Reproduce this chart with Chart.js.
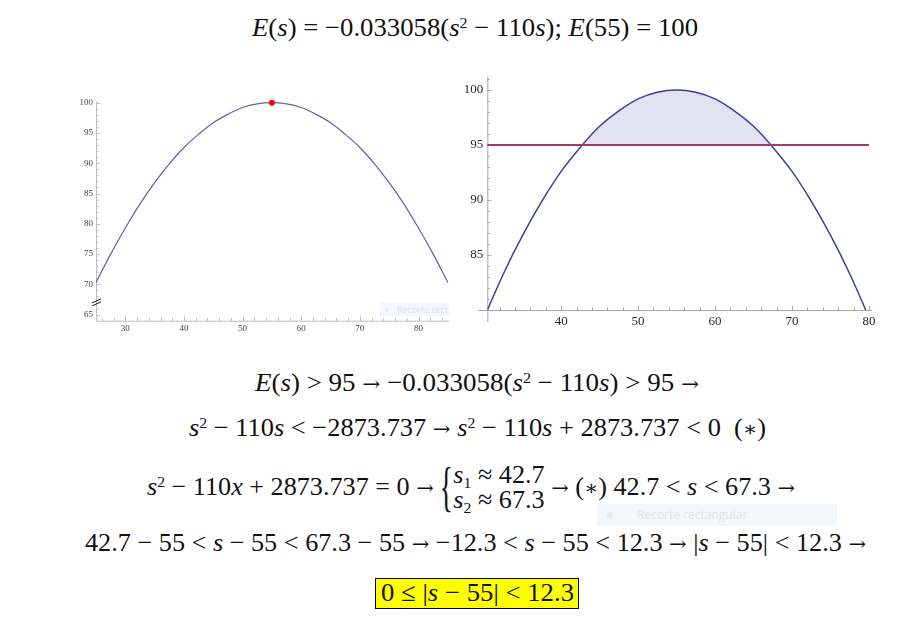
<!DOCTYPE html>
<html>
<head>
<meta charset="utf-8">
<script src="https://cdn.jsdelivr.net/npm/chart.js@4.4.1/dist/chart.umd.min.js"></script>
<style>
  html, body { margin: 0; padding: 0; background: #fff; }
  body { width: 915px; height: 617px; position: relative; overflow: hidden;
    font-family: "Liberation Serif", "DejaVu Serif", serif; color: #111; }
  .eq { position: absolute; white-space: nowrap; font-size: 26px; line-height: 30px;
    height: 30px; transform-origin: 0 50%; }
  .eq i { font-style: italic; }
  .eq sup { font-size: 0.6em; position: relative; top: -0.5em; vertical-align: baseline; line-height: 0; }
  .eq sub { font-size: 0.6em; position: relative; top: 0.3em; vertical-align: baseline; line-height: 0; }
  .sym { font-family: "DejaVu Serif", serif; font-size: 0.8em; }
  .arr { font-family: "DejaVu Serif", serif; font-size: 0.8em; }
  #line4 { height: 60px; display: flex; align-items: center; }
  #line4 .brace { display: inline-block; font-size: 54px; line-height: 54px; width: 13px;
    transform: scaleX(0.5); transform-origin: 0 50%; font-weight: normal; }
  #line4 .stack { display: inline-block; line-height: 25px; }
  #answer { position: absolute; left: 375px; top: 578px; width: 202px; height: 29px;
    background: #ffff00; border: 1px solid #000; }
  #answer .eq { position: absolute; left: 5px; top: -1px; }
  .snip { position: absolute; background: #f2f7fd; color: #dfe4ea; overflow: hidden;
    font-family: "Open Sans", "DejaVu Sans", sans-serif; white-space: nowrap; }
  .snip b { display: inline-block; border-radius: 50%; background: #e3e8ef; }
  #left-box { position: absolute; left: 60px; top: 85px; width: 400px; height: 255px; }
  #right-box { position: absolute; left: 455px; top: 65px; width: 440px; height: 280px; }
</style>
</head>
<body>

<div class="eq" data-w="446" style="left:252px; top:13px;"><i>E</i>(<i>s</i>) = −0.033058(<i>s</i><sup>2</sup> − 110<i>s</i>); <i>E</i>(55) = 100</div>

<div id="left-box"><canvas id="left-chart" width="400" height="255"></canvas></div>
<div id="right-box"><canvas id="right-chart" width="440" height="280"></canvas></div>

<div class="snip" style="left:380px; top:303px; width:69px; height:13px; font-size:9px; line-height:13px;">
  <b style="width:4px; height:4px; margin:0 8px 1px 5px;"></b>Recorte rectangular</div>

<div class="eq" data-w="444" style="left:255px; top:368px;"><i>E</i>(<i>s</i>) &gt; 95 <span class="arr">→</span> −0.033058(<i>s</i><sup>2</sup> − 110<i>s</i>) &gt; 95 <span class="arr">→</span></div>

<div class="eq" data-w="577" style="left:189px; top:413px;"><i>s</i><sup>2</sup> − 110<i>s</i> &lt; −2873.737 <span class="arr">→</span> <i>s</i><sup>2</sup> − 110<i>s</i> + 2873.737 &lt; 0 &nbsp;(<span class="sym">∗</span>)</div>

<div class="eq" id="line4" data-w="648" style="left:147px; top:457px;">
  <span><i>s</i><sup>2</sup> − 110<i>x</i> + 2873.737 = 0 <span class="arr">→</span>&nbsp;</span><span class="brace">{</span><span class="stack"><span><i>s</i><sub>1</sub> ≈ 42.7</span><br><span><i>s</i><sub>2</sub> ≈ 67.3</span></span><span>&nbsp;<span class="arr">→</span> (<span class="sym">∗</span>) 42.7 &lt; <i>s</i> &lt; 67.3 <span class="arr">→</span></span>
</div>

<div class="snip" style="left:597px; top:504px; width:240px; height:22px; font-size:12px; line-height:22px;">
  <b style="width:6px; height:6px; margin:0 24px 1px 10px;"></b>Recorte rectangular</div>

<div class="eq" data-w="781" style="left:85px; top:528px;">42.7 − 55 &lt; <i>s</i> − 55 &lt; 67.3 − 55 <span class="arr">→</span> −12.3 &lt; <i>s</i> − 55 &lt; 12.3 <span class="arr">→</span> |<i>s</i> − 55| &lt; 12.3 <span class="arr">→</span></div>

<div id="answer"><div class="eq" data-w="193">0 ≤ |<i>s</i> − 55| &lt; 12.3</div></div>

<script>
  /*global document, Chart*/
  "use strict";

  // E(s), every 2.5 units of s
  var sValues = [25, 27.5, 30, 32.5, 35, 37.5, 40, 42.5, 45, 47.5, 50, 52.5, 55,
    57.5, 60, 62.5, 65, 67.5, 70, 72.5, 75, 77.5, 80, 82.5, 85];
  var eValues = [70.3, 75.0, 79.3, 83.3, 86.8, 89.9, 92.6, 94.8, 96.7, 98.1, 99.2, 99.8, 100.0,
    99.8, 99.2, 98.1, 96.7, 94.8, 92.6, 89.9, 86.8, 83.3, 79.3, 75.0, 70.3];

  // vertex marked in red on the left plot
  var vertexS = [55];
  var vertexE = [100];

  // threshold line on the right plot
  var thresholdS = [30, 80];
  var thresholdE = [95, 95];

  // left plot ticks
  var leftXTicks = [30, 40, 50, 60, 70, 80];
  var leftXMinor = [26, 28, 30, 32, 34, 36, 38, 40, 42, 44, 46, 48, 50, 52, 54, 56, 58, 60,
    62, 64, 66, 68, 70, 72, 74, 76, 78, 80, 82, 84];
  var leftYTicks = [65, 70, 75, 80, 85, 90, 95, 100];
  var leftYMinor = [65, 66, 67, 68, 69, 70, 71, 72, 73, 74, 75, 76, 77, 78, 79, 80, 81, 82,
    83, 84, 85, 86, 87, 88, 89, 90, 91, 92, 93, 94, 95, 96, 97, 98, 99, 100];

  // right plot ticks
  var rightXTicks = [40, 50, 60, 70, 80];
  var rightXMinor = [32, 34, 36, 38, 40, 42, 44, 46, 48, 50, 52, 54, 56, 58, 60, 62, 64, 66,
    68, 70, 72, 74, 76, 78, 80];
  var rightYTicks = [85, 90, 95, 100];
  var rightYMinor = [81, 82, 83, 84, 85, 86, 87, 88, 89, 90, 91, 92, 93, 94, 95, 96, 97, 98,
    99, 100, 101];

  function toPoints(xs, ys) {
    return xs.map(function (x, i) {
      return {x: x, y: ys[i]};
    });
  }

  function fitLines() {
    var list = document.querySelectorAll(".eq[data-w]"), i, el, w;
    for (i = 0; i < list.length; i += 1) {
      el = list[i];
      w = el.getBoundingClientRect().width;
      el.style.transform = "scaleX(" + (parseFloat(el.getAttribute("data-w")) / w) + ")";
    }
  }

  // mathematica-like axes: lines crossing at a given origin, inner ticks
  function axesPlugin(cfg) {
    return {
      id: "mathAxes",
      beforeDatasetsDraw: function (chart) {
        var ctx = chart.ctx,
          xs = chart.scales.x,
          ys = chart.scales.y,
          ax = xs.getPixelForValue(cfg.yAxisAt),
          ay = ys.getPixelForValue(cfg.xAxisAt),
          i,
          p;
        ctx.save();
        ctx.strokeStyle = cfg.color;
        ctx.lineWidth = 1;
        ctx.beginPath();
        ctx.moveTo(xs.getPixelForValue(cfg.xFrom), ay + 0.5);
        ctx.lineTo(xs.getPixelForValue(cfg.xTo), ay + 0.5);
        ctx.moveTo(ax + 0.5, ys.getPixelForValue(cfg.yFrom));
        ctx.lineTo(ax + 0.5, ys.getPixelForValue(cfg.yTo));
        for (i = 0; i < cfg.xMinor.length; i += 1) {
          p = Math.round(xs.getPixelForValue(cfg.xMinor[i])) + 0.5;
          ctx.moveTo(p, ay);
          ctx.lineTo(p, ay - cfg.minor);
        }
        for (i = 0; i < cfg.xMajor.length; i += 1) {
          p = Math.round(xs.getPixelForValue(cfg.xMajor[i])) + 0.5;
          ctx.moveTo(p, ay);
          ctx.lineTo(p, ay - cfg.major);
        }
        for (i = 0; i < cfg.yMinor.length; i += 1) {
          p = Math.round(ys.getPixelForValue(cfg.yMinor[i])) + 0.5;
          ctx.moveTo(ax, p);
          ctx.lineTo(ax + cfg.minor, p);
        }
        for (i = 0; i < cfg.yMajor.length; i += 1) {
          p = Math.round(ys.getPixelForValue(cfg.yMajor[i])) + 0.5;
          ctx.moveTo(ax, p);
          ctx.lineTo(ax + cfg.major, p);
        }
        ctx.stroke();
        if (cfg.breakAt !== undefined) {
          p = ys.getPixelForValue(cfg.breakAt);
          ctx.strokeStyle = "#222";
          ctx.beginPath();
          ctx.moveTo(ax - 4, p + 1);
          ctx.lineTo(ax + 5, p - 3);
          ctx.moveTo(ax - 4, p + 4);
          ctx.lineTo(ax + 5, p);
          ctx.stroke();
        }
        ctx.restore();
      }
    };
  }

  // the scale box gets a fixed size so the plot area lands where the picture has it
  function tickAxis(min, max, values, size, color, padding, isY, boxSize) {
    return {
      type: "linear",
      position: isY ? "left" : "bottom",
      min: min,
      max: max,
      afterFit: function (scale) {
        if (isY) {
          scale.width = boxSize;
        } else {
          scale.height = boxSize;
        }
      },
      afterBuildTicks: function (scale) {
        scale.ticks = values.map(function (v) {
          return {value: v};
        });
      },
      grid: {display: false, drawTicks: false},
      border: {display: false},
      ticks: {
        autoSkip: false,
        maxRotation: 0,
        padding: padding,
        color: color,
        font: {family: "'Liberation Serif', serif", size: size},
        callback: function (v) {
          return String(v);
        }
      }
    };
  }

  new Chart(document.getElementById("left-chart"), {
    type: "line",
    data: {
      datasets: [
        {
          data: toPoints(vertexS, vertexE),
          showLine: false,
          pointRadius: 3,
          pointBackgroundColor: "#ff0000",
          pointBorderWidth: 0,
          clip: false,
          order: 0
        },
        {
          data: toPoints(sValues, eValues),
          borderColor: "#5f5fb2",
          borderWidth: 1.2,
          pointRadius: 0,
          tension: 0.4,
          fill: false,
          order: 1
        }
      ]
    },
    options: {
      responsive: false,
      animation: false,
      layout: {padding: {left: 0, right: 11, top: 16.5, bottom: 0}},
      plugins: {legend: {display: false}, tooltip: {enabled: false}},
      scales: {
        x: tickAxis(25, 85.2, leftXTicks, 9, "#444", 3, false, 19.3),
        y: tickAxis(64, 100.2, leftYTicks, 9, "#444", 3, true, 36)
      }
    },
    plugins: [axesPlugin({
      color: "#bdbdbd",
      xAxisAt: 64, yAxisAt: 25,
      xFrom: 25, xTo: 85.2, yFrom: 64, yTo: 100.2,
      xMajor: leftXTicks, xMinor: leftXMinor,
      yMajor: leftYTicks, yMinor: leftYMinor,
      major: 4, minor: 2.5,
      breakAt: 67.1
    })]
  });

  new Chart(document.getElementById("right-chart"), {
    type: "line",
    data: {
      datasets: [
        {
          data: toPoints(thresholdS, thresholdE),
          borderColor: "#a0386f",
          borderWidth: 2,
          pointRadius: 0,
          fill: false,
          order: 0
        },
        {
          data: toPoints(sValues, eValues),
          borderColor: "#3d3d9e",
          borderWidth: 1.5,
          pointRadius: 0,
          tension: 0.4,
          fill: {target: {value: 95}, above: "#e2e2f0", below: "rgba(0,0,0,0)"},
          order: 1
        }
      ]
    },
    options: {
      responsive: false,
      animation: false,
      layout: {padding: {left: 0, right: 23, top: 11, bottom: 0}},
      plugins: {legend: {display: false}, tooltip: {enabled: false}},
      scales: {
        x: tickAxis(30.4, 80.4, rightXTicks, 13, "#2a2a2a", 4, false, 35),
        y: tickAxis(80, 101.2, rightYTicks, 13, "#2a2a2a", 4, true, 32.3)
      }
    },
    plugins: [axesPlugin({
      color: "#a8a8a8",
      xAxisAt: 80, yAxisAt: 30.4,
      xFrom: 29.2, xTo: 80.4, yFrom: 78.9, yTo: 101.2,
      xMajor: rightXTicks, xMinor: rightXMinor,
      yMajor: rightYTicks, yMinor: rightYMinor,
      major: 4, minor: 2.5
    })]
  });

  fitLines();
</script>
</body>
</html>
